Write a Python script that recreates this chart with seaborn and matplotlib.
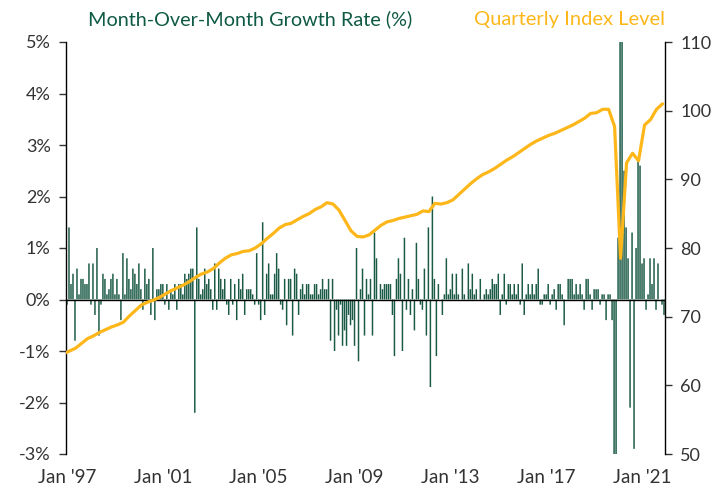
import numpy as np
import pandas as pd
import matplotlib
matplotlib.use("Agg")
import matplotlib.pyplot as plt
import seaborn as sns

# ---- data -------------------------------------------------------------
mom_growth = [
    -0.1, 1.4, 0.3, 0.5, -0.8, 0.6, 0.1, 0.4, 0.4, 0.3,
    0.3, 0.7, -0.1, 0.7, -0.3, 1.0, -0.7, -0.1, 0.5, 0.4,
    0.1, 0.2, 0.4, 0.5, 0.1, 0.4, 0.1, -0.4, 0.9, 0.1,
    0.8, 0.4, 0.2, 0.6, 0.5, 0.3, 0.7, 0.2, -0.2, 0.6,
    0.3, 0.4, -0.3, 1.0, -0.4, 0.2, 0.2, 0.3, 0.3, -0.1,
    0.3, -0.2, 0.2, 0.1, 0.3, -0.2, 0.3, 0.3, 0.1, 0.5,
    0.4, 0.5, 0.6, 0.6, -2.2, 1.4, 0.4, 0.1, 0.2, 0.6,
    0.3, 0.4, 0.2, -0.2, 0.7, -0.2, 0.6, 0.4, 0.2, 0.4,
    -0.1, -0.3, 0.4, -0.1, 0.3, -0.4, 0.4, 0.2, 0.5, -0.3,
    0.2, 0.2, 0.2, 0.1, -0.1, 0.9, -0.1, -0.4, 1.5, -0.3,
    0.5, 0.7, 0.1, 0.1, 0.5, 0.9, 0.6, -0.1, -0.2, 0.4,
    -0.5, 0.4, 0.4, -0.7, 0.6, 0.5, -0.3, 0.2, 0.3, 0.1,
    0.3, 0.3, 0.1, 0.1, 0.3, 0.3, 0.1, 0.2, 0.4, 0.2,
    0.2, 0.4, -0.8, 0.4, -1.0, -0.2, -0.7, -0.1, -0.9, -0.6,
    -0.9, -0.3, -0.5, -0.4, -0.9, 1.0, -1.2, 0.2, 0.6, -0.7,
    0.4, 0.1, 0.4, -0.7, 1.3, 0.8, 0.0, 0.3, 0.2, 0.3,
    0.3, 0.3, 0.3, -0.3, -1.1, 0.4, 0.8, 0.5, -1.0, 1.2,
    -0.2, 0.4, -0.3, 0.2, -0.6, 1.1, 0.4, -0.1, -0.2, 0.6,
    -0.7, 1.4, -1.7, 2.0, 0.4, -1.1, 0.3, 0.0, -0.3, 0.1,
    0.8, 0.1, 0.2, 0.5, 0.1, 0.5, 0.1, 0.0, 0.6, 0.1,
    0.0, 0.7, 0.2, 0.5, 0.1, 0.2, 0.0, 0.4, 0.0, 0.1,
    0.2, 0.1, 0.2, 0.4, 0.3, 0.3, 0.5, -0.3, 0.1, 0.5,
    -0.1, 0.3, 0.3, 0.1, 0.3, 0.1, 0.3, -0.1, 0.7, -0.3,
    0.1, 0.3, 0.1, 0.3, 0.1, 0.3, 0.6, -0.1, -0.1, 0.1,
    0.1, 0.3, -0.1, 0.1, 0.2, -0.2, 0.3, 0.3, 0.1, -0.5,
    0.0, 0.4, 0.4, 0.4, 0.1, 0.3, 0.1, 0.3, 0.1, -0.2,
    0.4, 0.4, 0.1, -0.2, 0.2, 0.2, 0.2, -0.1, 0.1, 0.1,
    -0.4, 0.1, 0.1, -0.4, -7.0, -20.0, 1.2, 8.7, 6.6, 2.5,
    1.4, 0.8, -2.1, 1.3, -2.9, 1.0, 2.7, 2.6, 0.7, 0.8,
    -0.2, 0.1, 0.8, 0.3, 0.8, -0.2, 0.7, 0.0, -0.1, -0.3,
]

quarterly_index = [
    64.6, 65.0, 65.4, 66.1, 66.8, 67.2, 67.7, 68.1, 68.5, 68.8,
    69.2, 70.1, 70.9, 71.7, 72.1, 72.4, 72.8, 73.3, 73.8, 74.2,
    74.6, 75.1, 75.7, 76.2, 76.5, 77.0, 77.8, 78.5, 79.0, 79.2,
    79.5, 79.6, 80.0, 80.6, 81.4, 82.1, 82.9, 83.4, 83.6, 84.1,
    84.6, 85.0, 85.6, 86.0, 86.6, 86.4, 85.5, 84.0, 82.5, 81.7,
    81.6, 81.9, 82.6, 83.3, 83.8, 84.0, 84.3, 84.5, 84.7, 84.9,
    85.4, 85.3, 86.5, 86.4, 86.6, 87.0, 87.8, 88.6, 89.4, 90.1,
    90.7, 91.1, 91.6, 92.2, 92.8, 93.3, 93.9, 94.5, 95.1, 95.6,
    96.0, 96.4, 96.7, 97.1, 97.5, 97.9, 98.4, 98.9, 99.6, 99.7,
    100.2, 100.2, 97.7, 78.5, 92.4, 93.8, 92.7, 97.9, 98.7, 100.2,
    101.0,
]

x_tick_labels = ["Jan '97", "Jan '01", "Jan '05", "Jan '09", "Jan '13", "Jan '17", "Jan '21"]
left_ticks = [-3, -2, -1, 0, 1, 2, 3, 4, 5]
right_ticks = [50, 60, 70, 80, 90, 100, 110]

GREEN = "#1b5a46"
TITLE_GREEN = "#0f5a44"
GOLD = "#FDB71A"

# ---- tables -----------------------------------------------------------
bars_df = pd.DataFrame({"month": np.arange(len(mom_growth)), "growth": mom_growth})
line_df = pd.DataFrame({"pos": np.arange(len(quarterly_index)) * 3 - 1.75,
                        "index": quarterly_index})

# ---- figure -----------------------------------------------------------
sns.set_style("white")
plt.rcParams["font.family"] = ["Lato", "DejaVu Sans"]

fig = plt.figure(figsize=(7.25, 4.91), dpi=100)
ax = fig.add_axes([66 / 725, 1 - 454 / 491, (665 - 66) / 725, (454 - 42) / 491])

sns.barplot(data=bars_df, x="month", y="growth", native_scale=True,
            color=GREEN, width=0.75, saturation=1, linewidth=0, ax=ax, zorder=2)
for p in ax.patches:
    p.set_snap(False)
ax.axhline(0, color="black", lw=1.0, zorder=3)

ax.set_xlim(-0.5, 299.5)
ax.set_ylim(-3, 5)
ax.set_yticks(left_ticks)
ax.set_yticklabels([f"{v}%" for v in left_ticks])
ax.set_xticks([0, 48, 96, 144, 192, 240, 288])
ax.set_xticklabels(x_tick_labels)
ax.set_xlabel("")
ax.set_ylabel("")

for s in ["top", "bottom", "right"]:
    ax.spines[s].set_visible(False)
ax.spines["left"].set_color("black")
ax.spines["left"].set_linewidth(1.0)
ax.tick_params(axis="y", which="both", left=True, length=5, width=1.0,
               color="#333333", labelsize=13, labelcolor="#333333", pad=6)
ax.tick_params(axis="x", bottom=False, labelsize=13.5, labelcolor="#333333", pad=7)

ax2 = ax.twinx()
sns.lineplot(data=line_df, x="pos", y="index", color=GOLD, lw=2.3, ax=ax2, zorder=4)
ax2.set_ylim(50, 110)
ax2.set_yticks(right_ticks)
ax2.set_ylabel("")
ax2.set_xlim(-0.5, 299.5)
for s in ["top", "bottom", "left"]:
    ax2.spines[s].set_visible(False)
ax2.spines["right"].set_color("black")
ax2.spines["right"].set_linewidth(1.0)
ax2.tick_params(axis="y", right=True, length=5, width=1.0, color="#333333",
                labelsize=13, labelcolor="#333333", pad=6)

fig.text(250 / 725, 1 - 19 / 491, "Month-Over-Month Growth Rate (%)", ha="center",
         va="center", color=TITLE_GREEN, fontsize=14.3)
fig.text(570 / 725, 1 - 19 / 491, "Quarterly Index Level", ha="center",
         va="center", color=GOLD, fontsize=14.5)

fig.savefig("out.png", dpi=100)
